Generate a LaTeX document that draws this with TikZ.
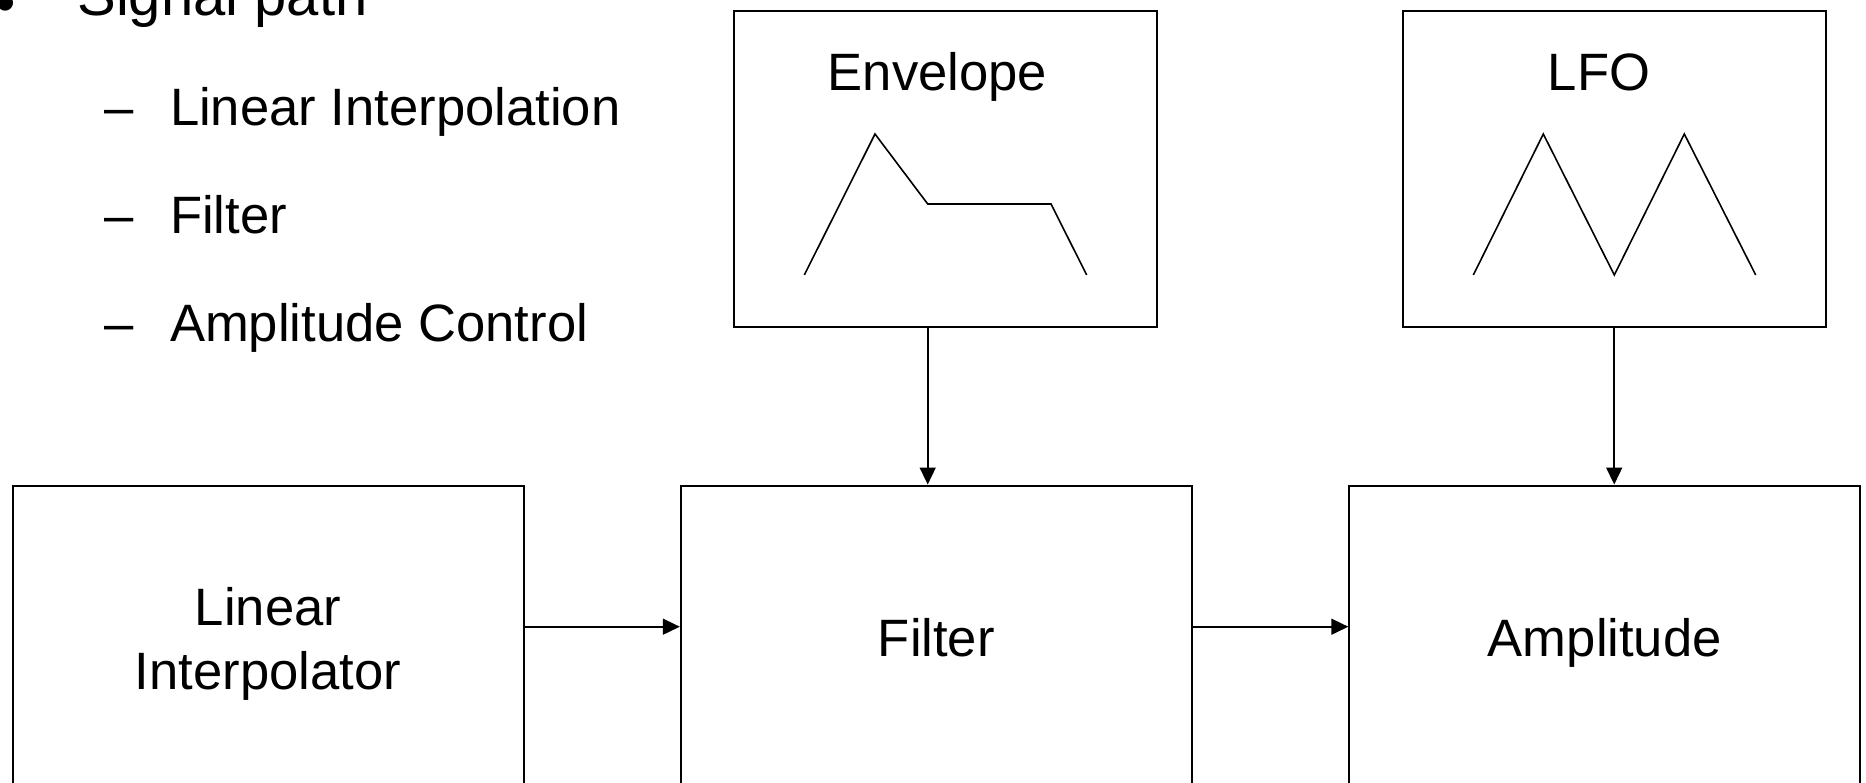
\documentclass[tikz,border=0pt]{standalone}
\usepackage{fontspec}
\setmainfont{Liberation Sans}
\usetikzlibrary{arrows.meta}

% Coordinates are given in pixels of a 1866 x 782 canvas, y pointing down.
\tikzset{
  canvas/.style={x=0.5pt, y=-0.5pt},
  bodyfont/.style={font=\fontsize{26.3pt}{32pt}\selectfont},
  headfont/.style={font=\fontsize{29pt}{34pt}\selectfont},
  block/.style={draw, line width=1pt, minimum width=255.5pt, minimum height=152.5pt,
    inner sep=0pt, align=center, bodyfont},
  oneline/.style={text height=18.75pt, text depth=0pt},
  panel/.style={draw, line width=1pt, minimum width=211.6pt, minimum height=158.15pt,
    inner sep=0pt},
  boxtitle/.style={anchor=base, inner sep=0pt, bodyfont},
  listitem/.style={anchor=base west, inner sep=0pt, bodyfont},
  wave/.style={line width=0.8pt, line join=miter},
  link/.style={line width=0.8pt, -{Triangle[length=8.5pt, width=8pt]}},
}

\begin{document}
\begin{tikzpicture}[canvas]
  \useasboundingbox (0,0) rectangle (1866,782);
  \clip (0,0) rectangle (1866,782);

  % bullet list
  \node[anchor=base west, inner sep=0pt, headfont] (bullet) at (-5,22.5) {•};
  \node[anchor=base west, inner sep=0pt, headfont] (head) at (77,15) {Signal path};
  \node[listitem] (item1) at (104,125) {\makebox[32.85pt][l]{–}Linear Interpolation};
  \node[listitem] (item2) at (104,233) {\makebox[32.85pt][l]{–}Filter};
  \node[listitem] (item3) at (104,341.5) {\makebox[32.85pt][l]{–}Amplitude Control};

  % modulation sources
  \node[panel] (env) at (945.1,168.85) {};
  \node[boxtitle] (envtitle) at (937.5,90) {Envelope};
  \draw[wave] (804.3,275) -- (875,134) -- (927.7,204) -- (1051,204) -- (1086.7,275);

  \node[panel] (lfo) at (1614.2,168.85) {};
  \node[boxtitle] (lfotitle) at (1599,90) {LFO};
  \draw[wave] (1473.3,275) -- (1543.3,134) -- (1614.3,275) -- (1684.3,134) -- (1755.7,275);

  % signal chain (boxes run past the lower edge)
  \node[block, minimum height=158.5pt] (lin) at (268,644) {Linear\\Interpolator};
  \node[block, oneline] (filt) at (936.3,638) {Filter};
  \node[block, oneline] (amp) at (1604.8,638) {Amplitude};

  % connectors
  \coordinate (rowy) at (0,626.7);
  \coordinate (envx) at (927.7,0);
  \draw[link] (lin.east |- rowy) -- (filt.west |- rowy);
  \draw[link] (filt.east |- rowy) -- (amp.west |- rowy);
  \draw[link] (env.south -| envx) -- (filt.north -| envx);
  \draw[link] (lfo.south) -- (amp.north -| lfo.south);
\end{tikzpicture}
\end{document}
